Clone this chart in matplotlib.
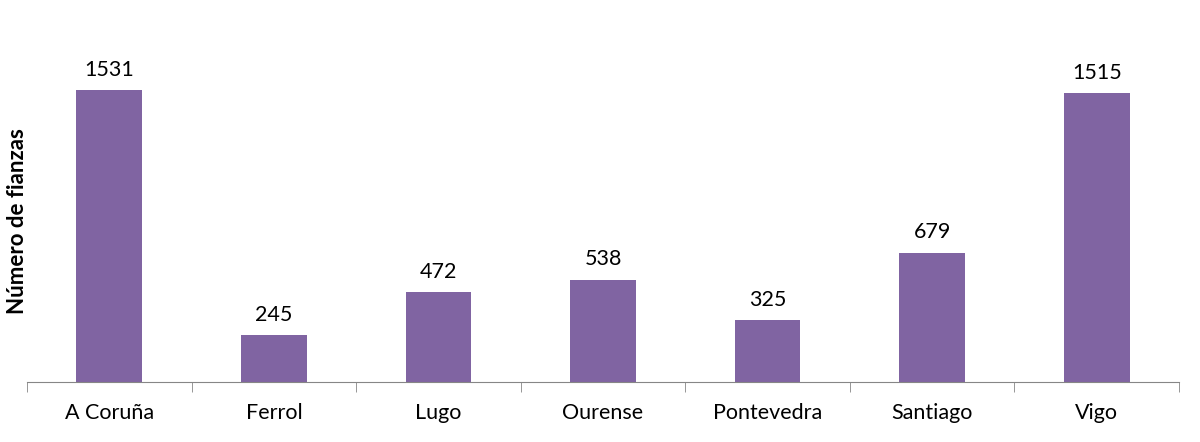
import matplotlib.pyplot as plt
import numpy as np

plt.rcParams['font.family'] = ['Lato', 'DejaVu Sans']

ciudades = ['A Coruña', 'Ferrol', 'Lugo', 'Ourense', 'Pontevedra', 'Santiago', 'Vigo']
fianzas = [1531, 245, 472, 538, 325, 679, 1515]

fig = plt.figure(figsize=(12, 4.42), dpi=100)
ax = fig.add_axes([0.0225, 0.1357, 0.96, 0.776])

x = np.arange(len(ciudades))
barras = ax.bar(x, fianzas, width=0.4, color='#8064A2')
for xi, v in zip(x, fianzas):
    ax.text(xi, v + 55, str(v), ha='center', va='bottom', fontsize=15.5, color='black')

ax.set_xlim(-0.5, len(ciudades) - 0.5)
ax.set_ylim(0, 1800)
ax.set_yticks([])
ax.set_xticks(x)
ax.set_xticklabels(ciudades, fontsize=15.5)
ax.tick_params(axis='x', which='major', length=0, pad=15)
ax.set_xticks(np.arange(len(ciudades) + 1) - 0.5, minor=True)
ax.tick_params(axis='x', which='minor', length=7, color='#868686', direction='out')
for lado in ['top', 'right', 'left']:
    ax.spines[lado].set_visible(False)
ax.spines['bottom'].set_color('#868686')
ax.set_ylabel('Número de fianzas', fontsize=16, fontweight='bold')
ax.yaxis.set_label_coords(0.001, 0.47)

fig.savefig('out.png')
